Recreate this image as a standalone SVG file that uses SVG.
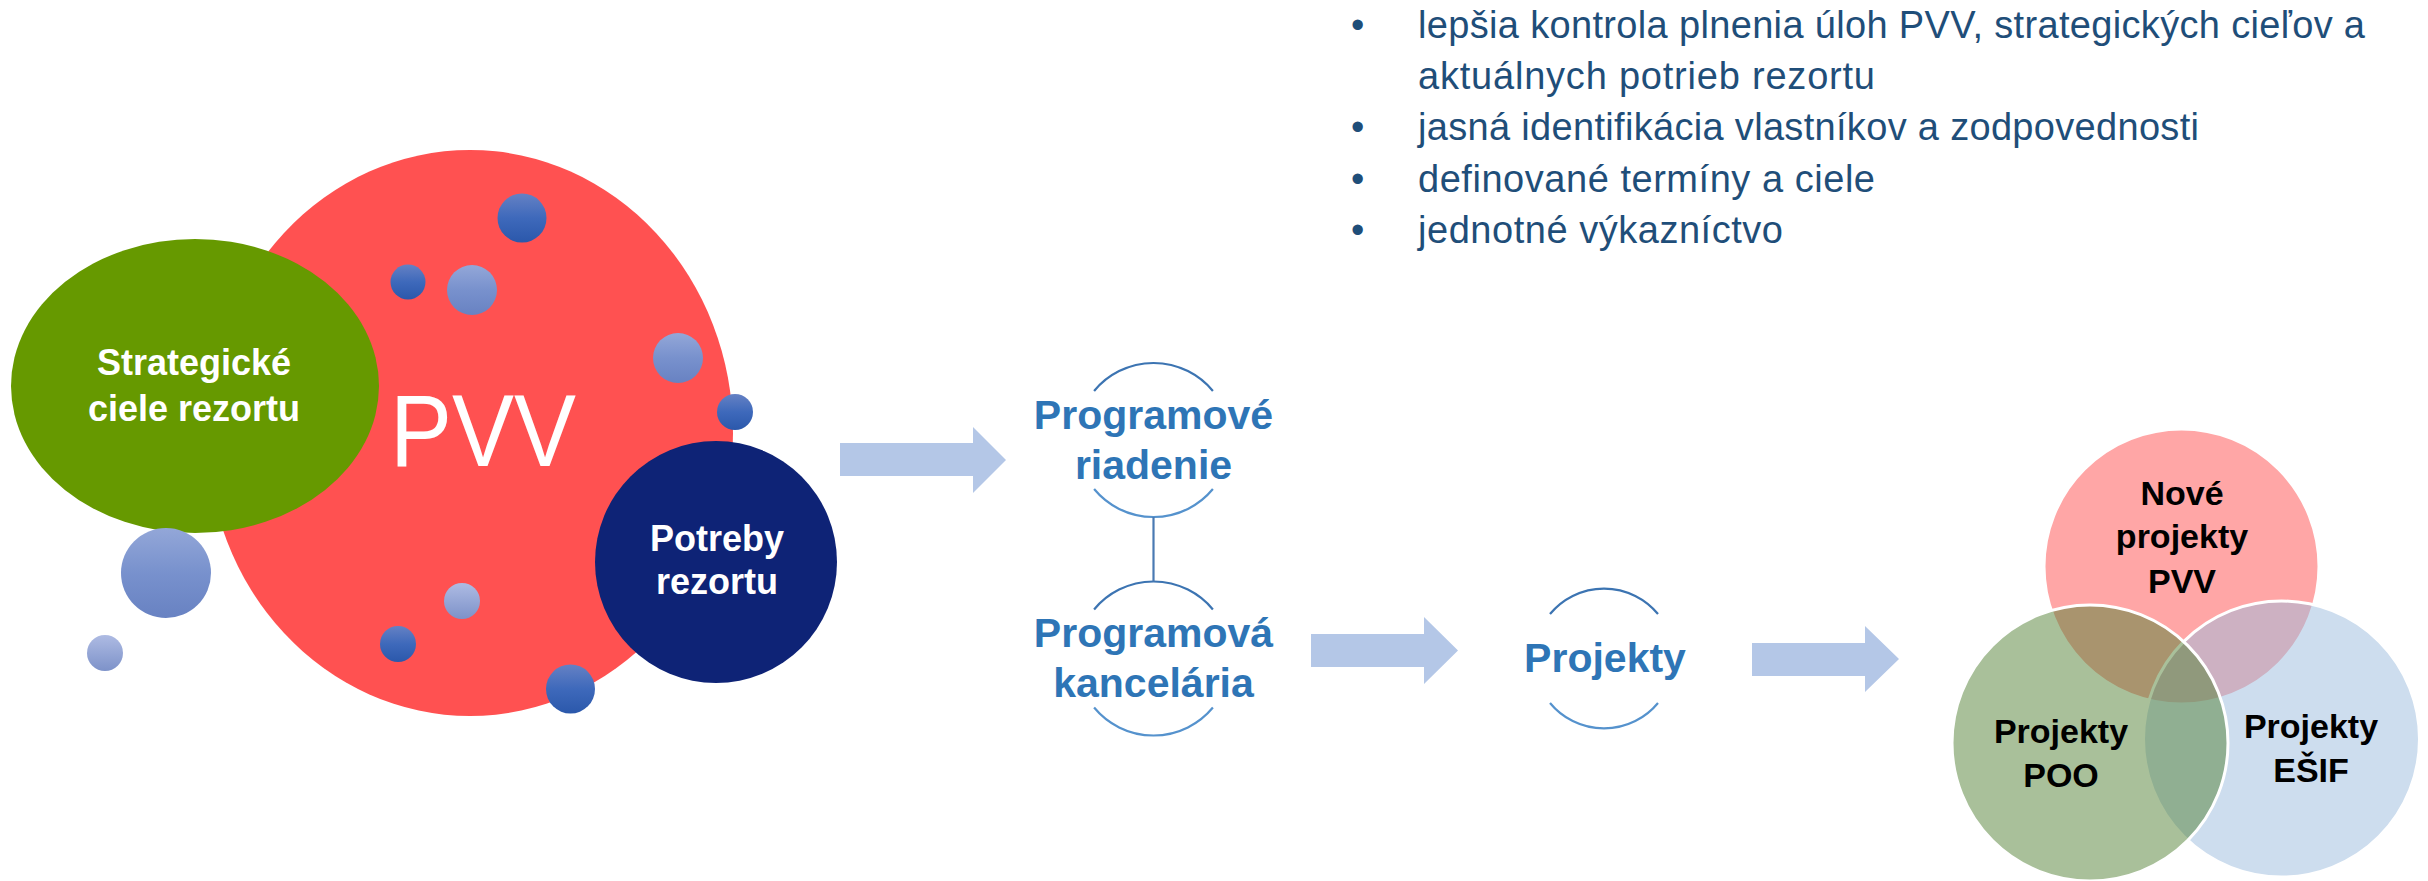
<svg xmlns="http://www.w3.org/2000/svg" width="2428" height="881" viewBox="0 0 2428 881">
<defs>
<style>
.wt{font-family:"Liberation Sans",Arial,sans-serif;font-weight:bold;fill:#ffffff;text-anchor:middle;font-size:36px}
.bt{font-family:"Liberation Sans",Arial,sans-serif;font-weight:bold;fill:#2e75b6;text-anchor:middle;font-size:41px}
.vt{font-family:"Liberation Sans",Arial,sans-serif;font-weight:bold;fill:#000000;text-anchor:middle;font-size:34px}
.li{font-family:"Liberation Sans",Arial,sans-serif;fill:#1f4e79;font-size:38px}
.arcT{fill:none;stroke:#3c74b2;stroke-width:2.2}
.arcB{fill:none;stroke:#5592cd;stroke-width:2.2}
.arrow{fill:#b4c7e7}
.venn{stroke:#ffffff;stroke-width:3}
</style>
<linearGradient id="gDark" x1="0" y1="0" x2="0" y2="1">
<stop offset="0" stop-color="#6581c4"/>
<stop offset="0.5" stop-color="#3e69bb"/>
<stop offset="1" stop-color="#2b58ab"/>
</linearGradient>
<linearGradient id="gLight" x1="0" y1="0" x2="0" y2="1">
<stop offset="0" stop-color="#93a7d8"/>
<stop offset="0.5" stop-color="#7891cd"/>
<stop offset="1" stop-color="#6882c2"/>
</linearGradient>
<linearGradient id="gPale" x1="0" y1="0" x2="0" y2="1">
<stop offset="0" stop-color="#aebbe3"/>
<stop offset="1" stop-color="#7d92c9"/>
</linearGradient>
</defs>

<g id="pvv">
<ellipse cx="470" cy="433" rx="263" ry="283" fill="#ff5151"/>
<text x="483" y="466" font-family="'Liberation Sans',Arial,sans-serif" font-size="102" fill="#ffffff" text-anchor="middle" textLength="186" lengthAdjust="spacingAndGlyphs">PVV</text>
</g>

<g id="strategicke-ciele">
<ellipse cx="195" cy="386" rx="184" ry="147" fill="#669900"/>
<text class="wt" x="194" y="375">Strategické</text>
<text class="wt" x="194" y="421">ciele rezortu</text>
</g>

<g id="potreby-rezortu">
<circle cx="716" cy="562" r="121" fill="#0e2376"/>
<text class="wt" x="717" y="551">Potreby</text>
<text class="wt" x="717" y="594">rezortu</text>
</g>

<g id="bubbles">
<circle cx="522" cy="218" r="24.5" fill="url(#gDark)"/>
<circle cx="408" cy="282" r="17.5" fill="url(#gDark)"/>
<circle cx="472" cy="290" r="25" fill="url(#gLight)"/>
<circle cx="678" cy="358" r="25" fill="url(#gLight)"/>
<circle cx="735" cy="412" r="18" fill="url(#gDark)"/>
<circle cx="166" cy="573" r="45" fill="url(#gLight)"/>
<circle cx="105" cy="653" r="18" fill="url(#gPale)"/>
<circle cx="462" cy="601" r="18" fill="url(#gPale)"/>
<circle cx="398" cy="644" r="18" fill="url(#gDark)"/>
<circle cx="570.5" cy="689" r="24.5" fill="url(#gDark)"/>
</g>

<g id="benefits">
<text class="li" x="1351" y="37.5">•</text>
<text class="li" x="1418" y="37.5" textLength="947">lepšia kontrola plnenia úloh PVV, strategických cieľov a</text>
<text class="li" x="1418" y="89" textLength="457">aktuálnych potrieb rezortu</text>
<text class="li" x="1351" y="140.3">•</text>
<text class="li" x="1418" y="140.3" textLength="781">jasná identifikácia vlastníkov a zodpovednosti</text>
<text class="li" x="1351" y="191.7">•</text>
<text class="li" x="1418" y="191.7" textLength="457">definované termíny a ciele</text>
<text class="li" x="1351" y="243">•</text>
<text class="li" x="1418" y="243" textLength="365">jednotné výkazníctvo</text>
</g>

<g id="programove-riadenie">
<path class="arcT" d="M1094.1,391 A77,77 0 0 1 1212.9,391"/>
<path class="arcB" d="M1212.9,489 A77,77 0 0 1 1094.1,489"/>
<text class="bt" x="1153.5" y="428.5">Programové</text>
<text class="bt" x="1153.5" y="478.5">riadenie</text>
</g>

<g id="programova-kancelaria">
<path class="arcT" d="M1094.1,609.5 A77,77 0 0 1 1212.9,609.5"/>
<path class="arcB" d="M1212.9,707.5 A77,77 0 0 1 1094.1,707.5"/>
<text class="bt" x="1153.5" y="646.5">Programová</text>
<text class="bt" x="1153.5" y="697">kancelária</text>
</g>

<g id="projekty">
<path class="arcT" d="M1550,614 A70,70 0 0 1 1658,614"/>
<path class="arcB" d="M1658,703 A70,70 0 0 1 1550,703"/>
<text class="bt" x="1605" y="672">Projekty</text>
</g>

<g id="venn">
<g id="nove-projekty-pvv">
<circle class="venn" cx="2181.5" cy="566.5" r="137.5" fill="#ff4d4d" fill-opacity="0.5"/>
</g>
<g id="projekty-esif">
<circle class="venn" cx="2281.5" cy="739" r="138" fill="#9bbbdd" fill-opacity="0.5"/>
</g>
<g id="projekty-poo">
<circle class="venn" cx="2090" cy="743" r="138" fill="#548235" fill-opacity="0.5"/>
</g>
<text class="vt" x="2182" y="505">Nové</text>
<text class="vt" x="2182" y="548">projekty</text>
<text class="vt" x="2182" y="593">PVV</text>
<text class="vt" x="2061" y="743">Projekty</text>
<text class="vt" x="2061" y="787">POO</text>
<text class="vt" x="2311" y="738">Projekty</text>
<text class="vt" x="2311" y="782">EŠIF</text>
</g>

<g id="connectors">
<path class="arrow" d="M840,443 H973 V427 L1006,460 L973,493 V476 H840 Z"/>
<path class="arrow" d="M1311,634 H1424 V617 L1458,650.5 L1424,684 V667 H1311 Z"/>
<path class="arrow" d="M1752,643 H1865 V626 L1899,659 L1865,692 V676 H1752 Z"/>
<line x1="1153.5" y1="517" x2="1153.5" y2="581.5" stroke="#4a7ab3" stroke-width="2.2"/>
</g>
</svg>
